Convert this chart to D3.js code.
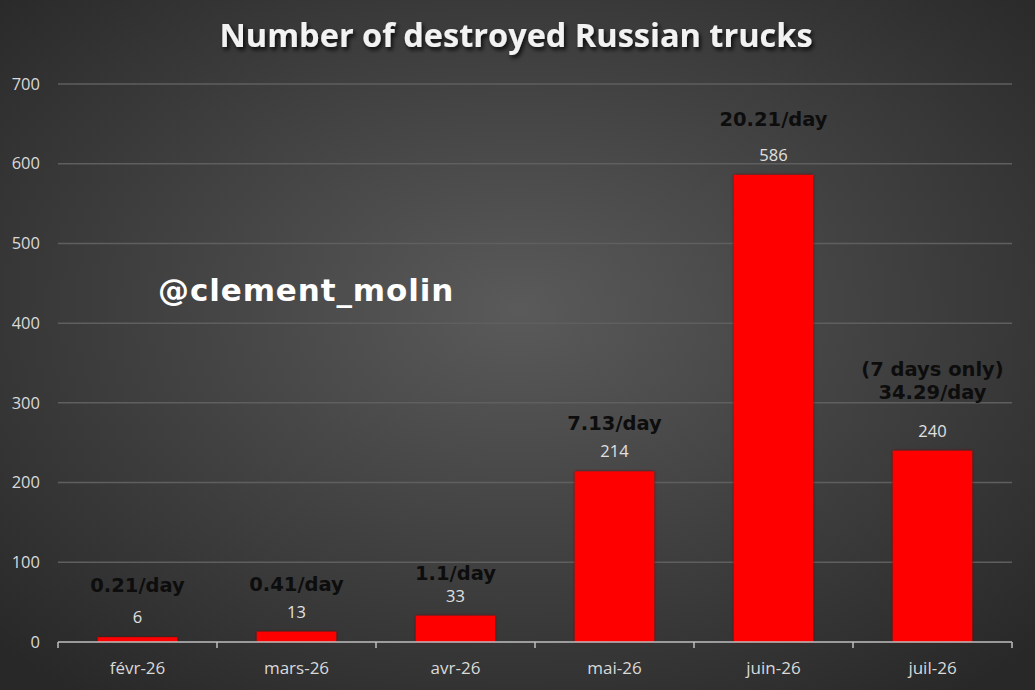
<!DOCTYPE html>
<html><head><meta charset="utf-8">
<script src="https://cdn.jsdelivr.net/npm/d3@7"></script>
<style>html,body{margin:0;padding:0;background:#333;}svg{display:block;}</style>
</head><body>
<script>
const categories = ["févr-26","mars-26","avr-26","mai-26","juin-26","juil-26"];
const values = [6, 13, 33, 214, 586, 240];
const perDay = [["0.21/day"],["0.41/day"],["1.1/day"],["7.13/day"],["20.21/day"],["(7 days only)","34.29/day"]];
const yTicks = [0,100,200,300,400,500,600,700];
const titleText = "Number of destroyed Russian trucks";
const watermark = "@clement_molin";
// layout: gap (px) between value label baseline and the per-day label's last baseline
const dayGap = [31, 27, 22, 27, 35, 38];

const W = 1035, H = 690;
const m = {left:58, right:23, top:84, bottom:48};
const svg = d3.select("body").append("svg").attr("width",W).attr("height",H);
const defs = svg.append("defs");
const rg = defs.append("radialGradient").attr("id","bg").attr("cx","50%").attr("cy","45%").attr("r","70%");
rg.append("stop").attr("offset","0%").attr("stop-color","#5a5a5a");
rg.append("stop").attr("offset","100%").attr("stop-color","#282828");
const sh = defs.append("filter").attr("id","tshadow").attr("x","-10%").attr("y","-30%").attr("width","120%").attr("height","160%");
sh.append("feDropShadow").attr("dx",2).attr("dy",3).attr("stdDeviation",2).attr("flood-color","#000").attr("flood-opacity",0.8);
const bs = defs.append("filter").attr("id","bshadow").attr("x","-10%").attr("y","-10%").attr("width","120%").attr("height","120%");
bs.append("feDropShadow").attr("dx",0).attr("dy",0).attr("stdDeviation",1.5).attr("flood-color","#600").attr("flood-opacity",0.9);

svg.append("rect").attr("width",W).attr("height",H).attr("fill","url(#bg)");

const x = d3.scaleBand().domain(categories).range([m.left, W-m.right]).paddingInner(0.5).paddingOuter(0.25);
const y = d3.scaleLinear().domain([0,700]).range([H-m.bottom, m.top]);

// gridlines
svg.append("g").selectAll("line").data(yTicks.filter(d=>d>0)).join("line")
  .attr("x1",m.left).attr("x2",W-m.right)
  .attr("y1",d=>y(d)).attr("y2",d=>y(d))
  .attr("stroke","#5f5f5f").attr("stroke-width",1.5);

// y axis labels
const yAxis = d3.axisLeft(y).tickValues(yTicks).tickSize(0).tickPadding(18);
const gy = svg.append("g").attr("transform",`translate(${m.left},0)`).call(yAxis);
gy.select(".domain").remove();
gy.selectAll("text").attr("fill","#d9d9d9").attr("font-family","'Open Sans', sans-serif").attr("font-size",16.5);

// bars
svg.append("g").selectAll("rect").data(values).join("rect")
  .attr("x",(d,i)=>x(categories[i])).attr("width",x.bandwidth())
  .attr("y",d=>y(d)).attr("height",d=>y(0)-y(d))
  .attr("fill","#ff0000").attr("filter","url(#bshadow)");

// x axis
const xb = d3.scaleLinear().domain([0,categories.length]).range([m.left, W-m.right]);
const gx = svg.append("g");
gx.append("line").attr("x1",m.left).attr("x2",W-m.right).attr("y1",y(0)).attr("y2",y(0)).attr("stroke","#bfbfbf").attr("stroke-width",1.5);
gx.selectAll("line.tk").data(d3.range(categories.length+1)).join("line").attr("class","tk")
  .attr("x1",d=>xb(d)).attr("x2",d=>xb(d)).attr("y1",y(0)).attr("y2",y(0)+6)
  .attr("stroke","#bfbfbf").attr("stroke-width",1.5);
gx.selectAll("text").data(categories).join("text")
  .attr("x",d=>x(d)+x.bandwidth()/2).attr("y",y(0)+32)
  .attr("text-anchor","middle").attr("fill","#d9d9d9")
  .attr("font-family","'Open Sans', sans-serif").attr("font-size",17).text(d=>d);

// value labels
svg.append("g").selectAll("text").data(values).join("text")
  .attr("x",(d,i)=>x(categories[i])+x.bandwidth()/2).attr("y",d=>y(d)-14)
  .attr("text-anchor","middle").attr("fill","#e0e0e0")
  .attr("font-family","'Open Sans', sans-serif").attr("font-size",16.5).text(d=>d);

// per-day labels
const dg = svg.append("g");
perDay.forEach((lines,i)=>{
  const cx = x(categories[i])+x.bandwidth()/2;
  const base = y(values[i])-14-dayGap[i];
  lines.forEach((t,j)=>{
    dg.append("text").attr("x",cx).attr("y",base-(lines.length-1-j)*23)
      .attr("text-anchor","middle").attr("fill","#0d0d0d")
      .attr("font-family","'DejaVu Sans', Verdana, sans-serif").attr("font-weight","bold")
      .attr("font-size",19.5).text(t);
  });
});

// watermark
svg.append("text").attr("x",158).attr("y",301).attr("fill","#ffffff")
  .attr("font-family","'DejaVu Sans', Verdana, sans-serif").attr("font-weight","bold")
  .attr("font-size",31).attr("letter-spacing",0.9).text(watermark);

// title
svg.append("text").attr("x",516).attr("y",47).attr("text-anchor","middle")
  .attr("fill","#f2f2f2").attr("font-family","'Open Sans', sans-serif").attr("font-weight","bold")
  .attr("font-size",32.5).attr("filter","url(#tshadow)").text(titleText);
</script>
</body></html>
